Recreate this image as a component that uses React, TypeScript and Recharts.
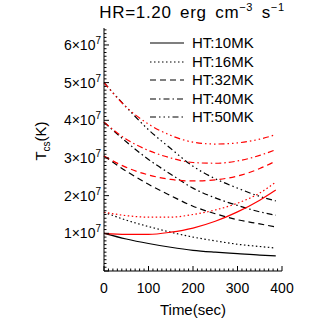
import { LineChart, Line, XAxis, YAxis, Legend } from "recharts"

// time samples (sec)
const timeSec = [0, 50, 100, 150, 200, 250, 300, 350, 386]

// coronal temperature, units of 1e7 K
const black10 = [1.0, 0.85, 0.73, 0.63, 0.55, 0.5, 0.46, 0.42, 0.4]
const black16 = [1.56, 1.35, 1.18, 1.03, 0.9, 0.8, 0.71, 0.65, 0.61]
const black32 = [3.05, 2.65, 2.3, 2.0, 1.72, 1.52, 1.36, 1.25, 1.17]
const black40 = [3.95, 3.43, 2.96, 2.57, 2.2, 1.94, 1.74, 1.57, 1.48]
const black50 = [5.0, 4.35, 3.75, 3.25, 2.78, 2.45, 2.2, 1.98, 1.86]

const red10 = [1.0, 0.97, 0.97, 1.03, 1.14, 1.32, 1.57, 1.88, 2.15]
const red16 = [1.56, 1.47, 1.43, 1.43, 1.5, 1.62, 1.8, 2.07, 2.36]
const red32 = [3.05, 2.75, 2.55, 2.43, 2.39, 2.42, 2.52, 2.72, 2.92]
const red40 = [3.95, 3.5, 3.2, 3.0, 2.88, 2.86, 2.92, 3.07, 3.22]
const red50 = [5.0, 4.35, 3.9, 3.6, 3.42, 3.37, 3.4, 3.5, 3.62]

const xMajor = [0, 100, 200, 300, 400]
const yMajor = [1, 2, 3, 4, 5, 6]
const yMax = 6.45e7

const DOT = "1.5 2.5"
const DASH = "6 4"
const DASHDOT = "6 3 1.5 3"
const DASH3DOT = "6 3 1.5 3 1.5 3 1.5 3"

const series = [
  { key: "b10", name: "HT:10MK", values: black10, color: "#000", dash: undefined },
  { key: "b16", name: "HT:16MK", values: black16, color: "#000", dash: DOT },
  { key: "b32", name: "HT:32MK", values: black32, color: "#000", dash: DASH },
  { key: "b40", name: "HT:40MK", values: black40, color: "#000", dash: DASHDOT },
  { key: "b50", name: "HT:50MK", values: black50, color: "#000", dash: DASH3DOT },
  { key: "r10", name: "r10", values: red10, color: "#ff0000", dash: undefined },
  { key: "r16", name: "r16", values: red16, color: "#ff0000", dash: DOT },
  { key: "r32", name: "r32", values: red32, color: "#ff0000", dash: DASH },
  { key: "r40", name: "r40", values: red40, color: "#ff0000", dash: DASHDOT },
  { key: "r50", name: "r50", values: red50, color: "#ff0000", dash: DASH3DOT },
]

const data = timeSec.map((t, i) => {
  const row: Record<string, number> = { t }
  series.forEach((s) => (row[s.key] = s.values[i] * 1e7))
  return row
})

const xTicks = Array.from({ length: 41 }, (_, i) => i * 10)
const yTicks = Array.from({ length: 65 }, (_, i) => i * 1e6)

const MAJ = 5
const MIN = 2.5

function BottomTick({ x, y, payload }: any) {
  const major = xMajor.includes(payload.value)
  return (
    <g>
      <line x1={x} x2={x} y1={y} y2={y - (major ? MAJ : MIN)} stroke="#000" />
      {major && (
        <text x={x} y={y + 22} textAnchor="middle" fontSize={14} fill="#000">
          {payload.value}
        </text>
      )}
    </g>
  )
}

function TopTick({ x, y, payload }: any) {
  const major = xMajor.includes(payload.value)
  return <line x1={x} x2={x} y1={y} y2={y + (major ? MAJ : MIN)} stroke="#000" />
}

function LeftTick({ x, y, payload }: any) {
  const n = payload.value / 1e7
  const major = payload.value % 1e7 === 0
  return (
    <g>
      <line x1={x} x2={x + (major ? MAJ : MIN)} y1={y} y2={y} stroke="#000" />
      {major && yMajor.includes(n) && (
        <text x={x - 3} y={y + 5} textAnchor="end" fontSize={14} fill="#000">
          {n}×10
          <tspan dy={-6} fontSize={10}>
            7
          </tspan>
        </text>
      )}
    </g>
  )
}

function RightTick({ x, y, payload }: any) {
  const major = payload.value % 1e7 === 0
  return <line x1={x} x2={x - (major ? MAJ : MIN)} y1={y} y2={y} stroke="#000" />
}

function YTitle() {
  const cx = 46
  const cy = 141
  return (
    <text transform={`rotate(-90 ${cx} ${cy})`} x={cx} y={cy} textAnchor="middle" fontSize={15} fill="#000">
      T
      <tspan fontSize={10} dy={4}>
        cs
      </tspan>
      <tspan dy={-4}>(K)</tspan>
    </text>
  )
}

function LegendBox({ payload }: any) {
  // only the black runs are labelled
  const items = (payload || []).filter((entry: any) => String(entry.value).startsWith("HT"))
  return (
    <div>
      {items.map((entry: any) => {
        const s = series.find((d) => d.name === entry.value)
        return (
          <div key={entry.value} style={{ display: "flex", alignItems: "center", height: 18.5 }}>
            <svg width={42} height={10}>
              <line x1={4} x2={38} y1={5} y2={5} stroke="#000" strokeWidth={1.2} strokeDasharray={s?.dash} />
            </svg>
            <span style={{ fontSize: 15, marginLeft: 4, lineHeight: "18px" }}>{entry.value}</span>
          </div>
        )
      })}
    </div>
  )
}

export default function App() {
  return (
    <div
      style={{
        position: "absolute",
        left: 0,
        top: 0,
        width: 327,
        height: 327,
        background: "#fff",
        fontFamily: "'Liberation Sans', Arial, sans-serif",
        color: "#000",
      }}
    >
      <div
        style={{
          position: "absolute",
          left: 0,
          width: 384,
          top: 1,
          textAlign: "center",
          fontSize: 17,
          letterSpacing: 0.7,
          wordSpacing: 3,
          whiteSpace: "nowrap",
        }}
      >
        HR=1.20 erg cm<sup style={{ fontSize: 11 }}>−3</sup> s<sup style={{ fontSize: 11 }}>−1</sup>
      </div>
      <LineChart width={327} height={327} data={data} margin={{ top: 28, right: 45, bottom: 0, left: 0 }}>
        <XAxis
          dataKey="t"
          type="number"
          domain={[0, 400]}
          ticks={xTicks}
          interval={0}
          height={56}
          tickSize={0}
          tickMargin={0}
          tickLine={false}
          axisLine={{ stroke: "#000" }}
          tick={<BottomTick />}
          label={{ value: "Time(sec)", position: "insideBottom", offset: 12, fontSize: 15, fill: "#000" }}
        />
        <XAxis
          xAxisId="top"
          dataKey="t"
          type="number"
          orientation="top"
          domain={[0, 400]}
          ticks={xTicks}
          interval={0}
          height={0}
          tickSize={0}
          tickMargin={0}
          tickLine={false}
          axisLine={{ stroke: "#000" }}
          tick={<TopTick />}
        />
        <YAxis
          type="number"
          domain={[0, yMax]}
          ticks={yTicks}
          interval={0}
          width={104}
          tickSize={0}
          tickMargin={0}
          tickLine={false}
          axisLine={{ stroke: "#000" }}
          tick={<LeftTick />}
          label={<YTitle />}
        />
        <YAxis
          yAxisId="right"
          orientation="right"
          type="number"
          domain={[0, yMax]}
          ticks={yTicks}
          interval={0}
          width={0}
          tickSize={0}
          tickMargin={0}
          tickLine={false}
          axisLine={{ stroke: "#000" }}
          tick={<RightTick />}
        />
        <Legend
          layout="vertical"
          align="center"
          verticalAlign="middle"
          content={<LegendBox />}
          wrapperStyle={{ position: "absolute", left: 146, top: 34, width: 150 }}
        />
        {series.map((s) => (
          <Line
            key={s.key}
            dataKey={s.key}
            name={s.name}
            type="monotone"
            stroke={s.color}
            strokeWidth={1.2}
            strokeDasharray={s.dash}
            dot={false}
            legendType={s.color === "#000" ? "line" : "none"}
            isAnimationActive={false}
          />
        ))}
      </LineChart>
    </div>
  )
}
